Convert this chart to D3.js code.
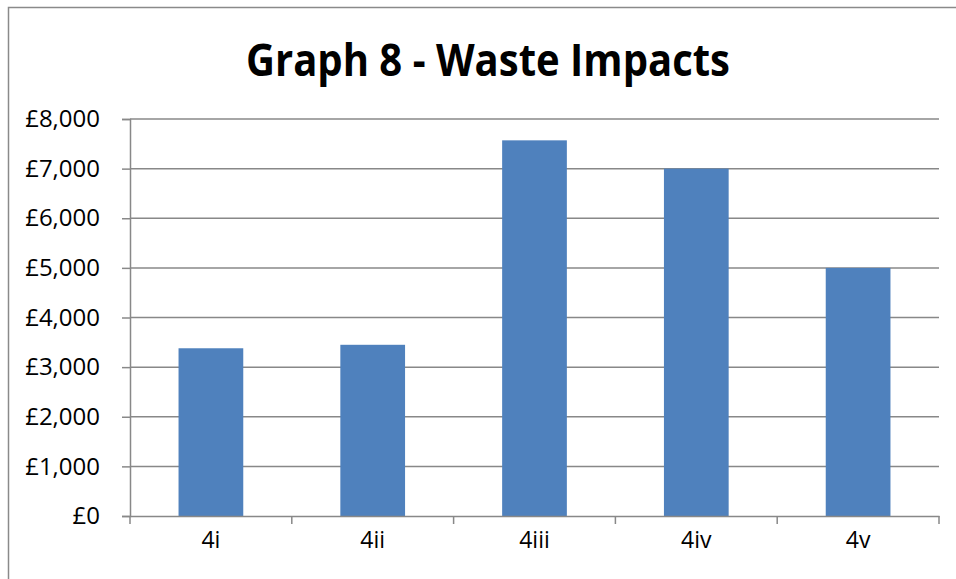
<!DOCTYPE html>
<html>
<head>
  <meta charset="utf-8">
  <script src="https://d3js.org/d3.v7.min.js"></script>
  <style>
    body { margin: 0; background: #fff; }
    text { font-family: "Open Sans", Calibri, sans-serif; fill: #000; }
  </style>
</head>
<body>
  <div id="chart"></div>
<script>

  // data
  var categories = ["4i", "4ii", "4iii", "4iv", "4v"];
  var values = [3380, 3450, 7570, 7000, 5000];
  var yTicks = [0, 1000, 2000, 3000, 4000, 5000, 6000, 7000, 8000];
  var title = "Graph 8 - Waste Impacts";

  var W = 956, H = 579;
  var margin = {top: 119, right: 17, bottom: 63, left: 130},
      width = W - margin.left - margin.right,
      height = H - margin.top - margin.bottom;

  var svg = d3.select("#chart").append("svg")
      .attr("width", W)
      .attr("height", H);

  // outer chart border (runs off the right and bottom of the picture)
  svg.append("rect")
    .attr("x", 8.5).attr("y", 7.5)
    .attr("width", 1000).attr("height", 1000)
    .attr("fill", "none")
    .attr("stroke", "#8a8a8a")
    .attr("stroke-width", 1.5);

  svg.append("text")
    .attr("x", 488).attr("y", 76)
    .attr("text-anchor", "middle")
    .attr("font-weight", "bold")
    .attr("font-size", 44)
    .attr("textLength", 484)
    .attr("lengthAdjust", "spacingAndGlyphs")
    .text(title);

  var g = svg.append("g")
      .attr("transform", "translate(" + margin.left + "," + margin.top + ")");

  var x = d3.scaleBand().domain(categories).range([0, width]).padding(0);
  var y = d3.scaleLinear().domain([0, 8000]).range([height, 0]);

  // gridlines
  g.append("g")
    .selectAll("line")
    .data(yTicks.slice(1))
    .join("line")
      .attr("x1", 0).attr("x2", width)
      .attr("y1", function(d) { return y(d); })
      .attr("y2", function(d) { return y(d); })
      .attr("stroke", "#888")
      .attr("stroke-width", 1.5);

  // bars
  var barW = x.bandwidth() * 0.4;
  g.selectAll(".bar")
    .data(values)
    .join("rect")
      .attr("class", "bar")
      .attr("x", function(d, i) { return x(categories[i]) + (x.bandwidth() - barW) / 2; })
      .attr("width", barW)
      .attr("y", function(d) { return y(d); })
      .attr("height", function(d) { return height - y(d); })
      .attr("fill", "#4f81bd");

  // y axis
  var yAxis = g.append("g")
    .call(d3.axisLeft(y).tickValues(yTicks).tickSize(8).tickPadding(22)
      .tickFormat(function(d) { return "£" + d3.format(",")(d); }));
  yAxis.select(".domain").attr("stroke", "#888").attr("stroke-width", 1.5);
  yAxis.selectAll(".tick line").attr("stroke", "#888").attr("stroke-width", 1.5);
  yAxis.selectAll("text").attr("font-size", 24).attr("fill", "#000")
    .style("font-family", "'Open Sans', Calibri, sans-serif");

  // x axis with ticks at category boundaries
  var xAxis = g.append("g")
    .attr("transform", "translate(0," + height + ")")
    .call(d3.axisBottom(x).tickSize(0).tickPadding(16));
  xAxis.select(".domain").attr("stroke", "#888").attr("stroke-width", 1.5);
  xAxis.selectAll("text").attr("font-size", 23).attr("fill", "#000")
    .style("font-family", "'Open Sans', Calibri, sans-serif");

  var bounds = categories.map(function(c) { return x(c); }).concat([width]);
  xAxis.selectAll(".bound")
    .data(bounds)
    .join("line")
      .attr("class", "bound")
      .attr("x1", function(d) { return d; }).attr("x2", function(d) { return d; })
      .attr("y1", 0).attr("y2", 8)
      .attr("stroke", "#888")
      .attr("stroke-width", 1.5);

</script>
</body>
</html>
